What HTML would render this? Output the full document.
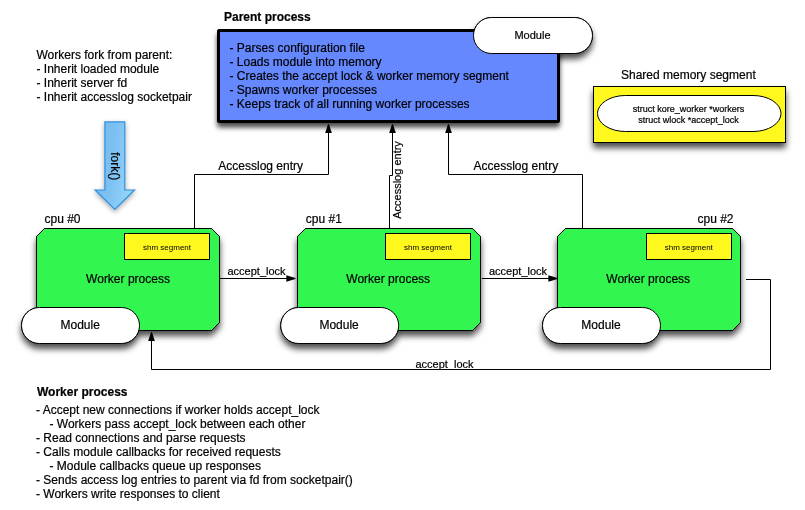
<!DOCTYPE html>
<html><head><meta charset="utf-8">
<style>
html,body{margin:0;padding:0;background:#fff;}
body{width:805px;height:510px;overflow:hidden;}
svg{display:block;will-change:transform;}
text{font-family:"Liberation Sans",sans-serif;fill:#000;stroke:#000;stroke-width:0.2px;}
</style></head>
<body>
<svg width="805" height="510" viewBox="0 0 805 510">
<defs>
<filter id="sh" x="-10%" y="-10%" width="120%" height="130%">
<feDropShadow dx="0" dy="5" stdDeviation="3" flood-color="#000" flood-opacity="0.7"/>
</filter>
<filter id="shp" x="-20%" y="-40%" width="140%" height="200%">
<feDropShadow dx="0" dy="4.5" stdDeviation="2.8" flood-color="#000" flood-opacity="0.7"/>
</filter>
<filter id="sh2" x="-40%" y="-20%" width="180%" height="140%">
<feDropShadow dx="0" dy="2" stdDeviation="2.5" flood-color="#000" flood-opacity="0.35"/>
</filter>
<linearGradient id="fg" x1="0" y1="0" x2="1" y2="0.3">
<stop offset="0" stop-color="#74b9ee"/>
<stop offset="0.5" stop-color="#7cc0f2"/>
<stop offset="1" stop-color="#92d3fa"/>
</linearGradient>
</defs>
<rect width="805" height="510" fill="#fff"/>

<!-- shadows beneath all -->
<g filter="url(#sh)" fill="#000">
<path d="M44.5 228.5 H211.5 L219.5 236.5 V322.5 L211.5 330.5 H44.5 L36.5 322.5 V236.5 Z" stroke="#000" stroke-width="1"/><rect x="21.5" y="307.5" width="118" height="36" rx="18" stroke="#000" stroke-width="1"/>
<path d="M305.5 228.5 H472.5 L480.5 236.5 V322.5 L472.5 330.5 H305.5 L297.5 322.5 V236.5 Z" stroke="#000" stroke-width="1"/><rect x="280.7" y="307.5" width="118" height="36" rx="18" stroke="#000" stroke-width="1"/>
<path d="M565.5 228.5 H732.5 L740.5 236.5 V322.5 L732.5 330.5 H565.5 L557.5 322.5 V236.5 Z" stroke="#000" stroke-width="1"/><rect x="542.5" y="307.5" width="118" height="36" rx="18" stroke="#000" stroke-width="1"/>
<rect x="473.5" y="17.5" width="119" height="36" rx="18" stroke="#000" stroke-width="1"/>
<rect x="593.5" y="86.5" width="192" height="56" stroke="#000" stroke-width="1"/>
</g>
<g filter="url(#shp)">
<rect x="218.5" y="30.5" width="340" height="91" rx="1.5" fill="#000" stroke="#000" stroke-width="3"/>
</g>

<text x="224" y="21" font-size="12" font-weight="bold">Parent process</text>
<rect x="218.5" y="30.5" width="340" height="91" rx="1.5" fill="#6688fe" stroke="#000" stroke-width="3"/>
<g font-size="12">
<text x="229.5" y="52">- Parses configuration file</text>
<text x="229.5" y="66">- Loads module into memory</text>
<text x="229.5" y="80">- Creates the accept lock &amp; worker memory segment</text>
<text x="229.5" y="94">- Spawns worker processes</text>
<text x="229.5" y="108">- Keeps track of all running worker processes</text>
</g>
<rect x="473.5" y="17.5" width="119" height="36" rx="18" fill="#fff" stroke="#000" stroke-width="1"/>
<text x="532.5" y="38.7" font-size="11" text-anchor="middle">Module</text>

<g font-size="12">
<text x="36.5" y="59">Workers fork from parent:</text>
<text x="36.5" y="73">- Inherit loaded module</text>
<text x="36.5" y="87">- Inherit server fd</text>
<text x="36.5" y="101">- Inherit accesslog socketpair</text>
</g>

<polygon points="104.9,121.9 124.8,121.9 124.8,190 134.6,190 114.8,209.5 95,190 104.9,190" fill="url(#fg)" stroke="#3190dc" stroke-width="1.2" filter="url(#sh2)"/>
<text transform="translate(111.4,166.2) rotate(90)" font-size="12" text-anchor="middle">fork()</text>

<text x="621" y="79" font-size="12">Shared memory segment</text>
<rect x="593.5" y="86.5" width="192" height="56" fill="#fff81e" stroke="#000" stroke-width="1"/>
<rect x="597.5" y="95.5" width="183.5" height="36" rx="28" ry="18" fill="#fff" stroke="#000" stroke-width="1"/>
<g font-size="9" text-anchor="middle" style="stroke-width:0">
<text x="688.5" y="112">struct kore_worker *workers</text>
<text x="688.5" y="122.5">struct wlock *accept_lock</text>
</g>

<g fill="none" stroke="#000" stroke-width="1" stroke-linejoin="miter" stroke-linecap="butt">
<path d="M194.5 228 V174.5 H328.5 V132"/>
<path d="M389.5 228 V175.5 H392.5 V132"/>
<path d="M582.5 228 V174.5 H448.5 V132"/>
<path d="M219.5 278.5 H288"/>
<path d="M482 278.5 H549"/>
<path d="M746 279.5 H770.5 V369.5 H151.5 V340"/>
</g>
<g fill="#000">
<polygon points="328.0,124.2 329.0,124.2 331.8,133 325.2,133"/>
<polygon points="392.0,124.2 393.0,124.2 395.8,133 389.2,133"/>
<polygon points="448.0,124.2 449.0,124.2 451.8,133 445.2,133"/>
<polygon points="286.3,275.3 295.4,278.1 295.4,278.9 286.3,281.7"/>
<polygon points="548.4,275.3 557.4,278.1 557.4,278.9 548.4,281.7"/>
<polygon points="151.0,332.2 152.0,332.2 154.8,341 148.2,341"/>
</g>
<g font-size="12">
<text x="218.3" y="170">Accesslog entry</text>
<text x="473.5" y="170">Accesslog entry</text>
</g>
<text transform="translate(401.3,218.8) rotate(-90)" font-size="11">Accesslog entry</text>
<g font-size="11">
<text x="227.5" y="275">accept_lock</text>
<text x="489" y="275">accept_lock</text>
<text x="415.5" y="368">accept_lock</text>
</g>

<text x="44.5" y="222.5" font-size="12">cpu #0</text>
<path d="M44.5 228.5 H211.5 L219.5 236.5 V322.5 L211.5 330.5 H44.5 L36.5 322.5 V236.5 Z" fill="#33f54f" stroke="#000" stroke-width="1"/>
<rect x="124.5" y="233.5" width="85" height="26" fill="#fff81e" stroke="#000" stroke-width="1"/>
<text x="167.0" y="249.6" font-size="8" text-anchor="middle" style="stroke-width:0">shm segment</text>
<text x="128.0" y="282.5" font-size="12" text-anchor="middle">Worker process</text>
<rect x="21.5" y="307.5" width="118" height="36" rx="18" fill="#fff" stroke="#000" stroke-width="1"/>
<text x="80.2" y="329" font-size="12" text-anchor="middle">Module</text>
<text x="305.8" y="222.5" font-size="12">cpu #1</text>
<path d="M305.5 228.5 H472.5 L480.5 236.5 V322.5 L472.5 330.5 H305.5 L297.5 322.5 V236.5 Z" fill="#33f54f" stroke="#000" stroke-width="1"/>
<rect x="385.5" y="233.5" width="85" height="26" fill="#fff81e" stroke="#000" stroke-width="1"/>
<text x="428.0" y="249.6" font-size="8" text-anchor="middle" style="stroke-width:0">shm segment</text>
<text x="388.2" y="282.5" font-size="12" text-anchor="middle">Worker process</text>
<rect x="280.7" y="307.5" width="118" height="36" rx="18" fill="#fff" stroke="#000" stroke-width="1"/>
<text x="339.09999999999997" y="329" font-size="12" text-anchor="middle">Module</text>
<text x="697.5" y="222.5" font-size="12">cpu #2</text>
<path d="M565.5 228.5 H732.5 L740.5 236.5 V322.5 L732.5 330.5 H565.5 L557.5 322.5 V236.5 Z" fill="#33f54f" stroke="#000" stroke-width="1"/>
<rect x="646.5" y="233.5" width="85" height="26" fill="#fff81e" stroke="#000" stroke-width="1"/>
<text x="688.8" y="249.6" font-size="8" text-anchor="middle" style="stroke-width:0">shm segment</text>
<text x="648.2" y="282.5" font-size="12" text-anchor="middle">Worker process</text>
<rect x="542.5" y="307.5" width="118" height="36" rx="18" fill="#fff" stroke="#000" stroke-width="1"/>
<text x="601.0" y="329" font-size="12" text-anchor="middle">Module</text>

<text x="37" y="396" font-size="12" font-weight="bold">Worker process</text>
<g font-size="12">
<text x="36" y="414">- Accept new connections if worker holds accept_lock</text>
<text x="49.5" y="428">- Workers pass accept_lock between each other</text>
<text x="36" y="442">- Read connections and parse requests</text>
<text x="36" y="456">- Calls module callbacks for received requests</text>
<text x="49.5" y="470">- Module callbacks queue up responses</text>
<text x="36" y="484">- Sends access log entries to parent via fd from socketpair()</text>
<text x="36" y="498">- Workers write responses to client</text>
</g>
</svg>
</body></html>
